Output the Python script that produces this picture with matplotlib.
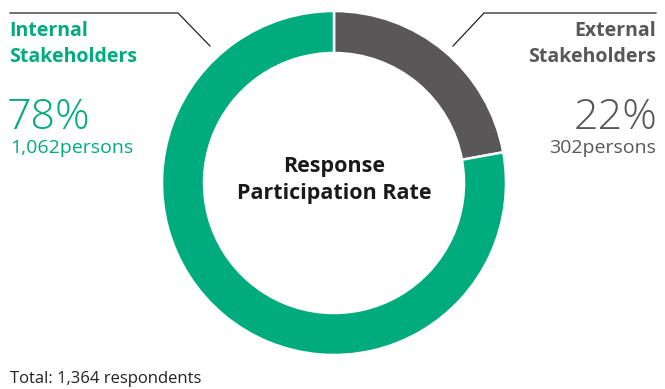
import matplotlib.pyplot as plt

# data
labels = ['External\nStakeholders', 'Internal\nStakeholders']
persons = [302, 1062]
pcts = ['22%', '78%']
colors = ['#595757', '#00AB7E']
total = 1364

plt.rcParams['font.family'] = ['Open Sans', 'DejaVu Sans']

W, H = 665, 389
fig = plt.figure(figsize=(W / 100, H / 100), dpi=100)
ax = fig.add_axes([0, 0, 1, 1])

# donut
cx, cy, r = 334, H - 183, 172
ax.pie(persons, colors=colors, startangle=90, counterclock=False,
       center=(cx, cy), radius=r, frame=True,
       wedgeprops=dict(width=42, edgecolor='white', linewidth=1.8))
ax.set_xlim(0, W)
ax.set_ylim(0, H)
ax.set_aspect('equal')
ax.axis('off')

# centre title
ax.text(cx, H - 180, 'Response\nParticipation Rate', ha='center', va='center',
        fontsize=15.5, fontweight='bold', color='#1a1a1a', linespacing=1.4)

# leader lines
ax.plot([10, 178, 210], [H - 13, H - 13, H - 46], color='#222222', lw=0.9)
ax.plot([656, 484, 453], [H - 13, H - 13, H - 46], color='#222222', lw=0.9)

# left labels (internal)
ax.text(9, H - 21, labels[1], ha='left', va='top', fontsize=14,
        fontweight='bold', color=colors[1], linespacing=1.4)
ax.text(7, H - 96, pcts[1], ha='left', va='top', fontsize=31,
        fontweight='light', color=colors[1])
ax.text(10, H - 139, f'{persons[1]:,}persons', ha='left', va='top',
        fontsize=14, color=colors[1])

# right labels (external)
ax.text(656, H - 21, labels[0], ha='right', va='top', fontsize=14,
        fontweight='bold', color=colors[0], linespacing=1.4,
        multialignment='right')
ax.text(657, H - 96, pcts[0], ha='right', va='top', fontsize=31,
        fontweight='light', color=colors[0])
ax.text(656, H - 139, f'{persons[0]}persons', ha='right', va='top',
        fontsize=14, color=colors[0])

ax.text(10, H - 379, f'Total: {total:,} respondents', ha='left',
        va='center', fontsize=12, color='#222222')

fig.savefig('out.png', dpi=100)
